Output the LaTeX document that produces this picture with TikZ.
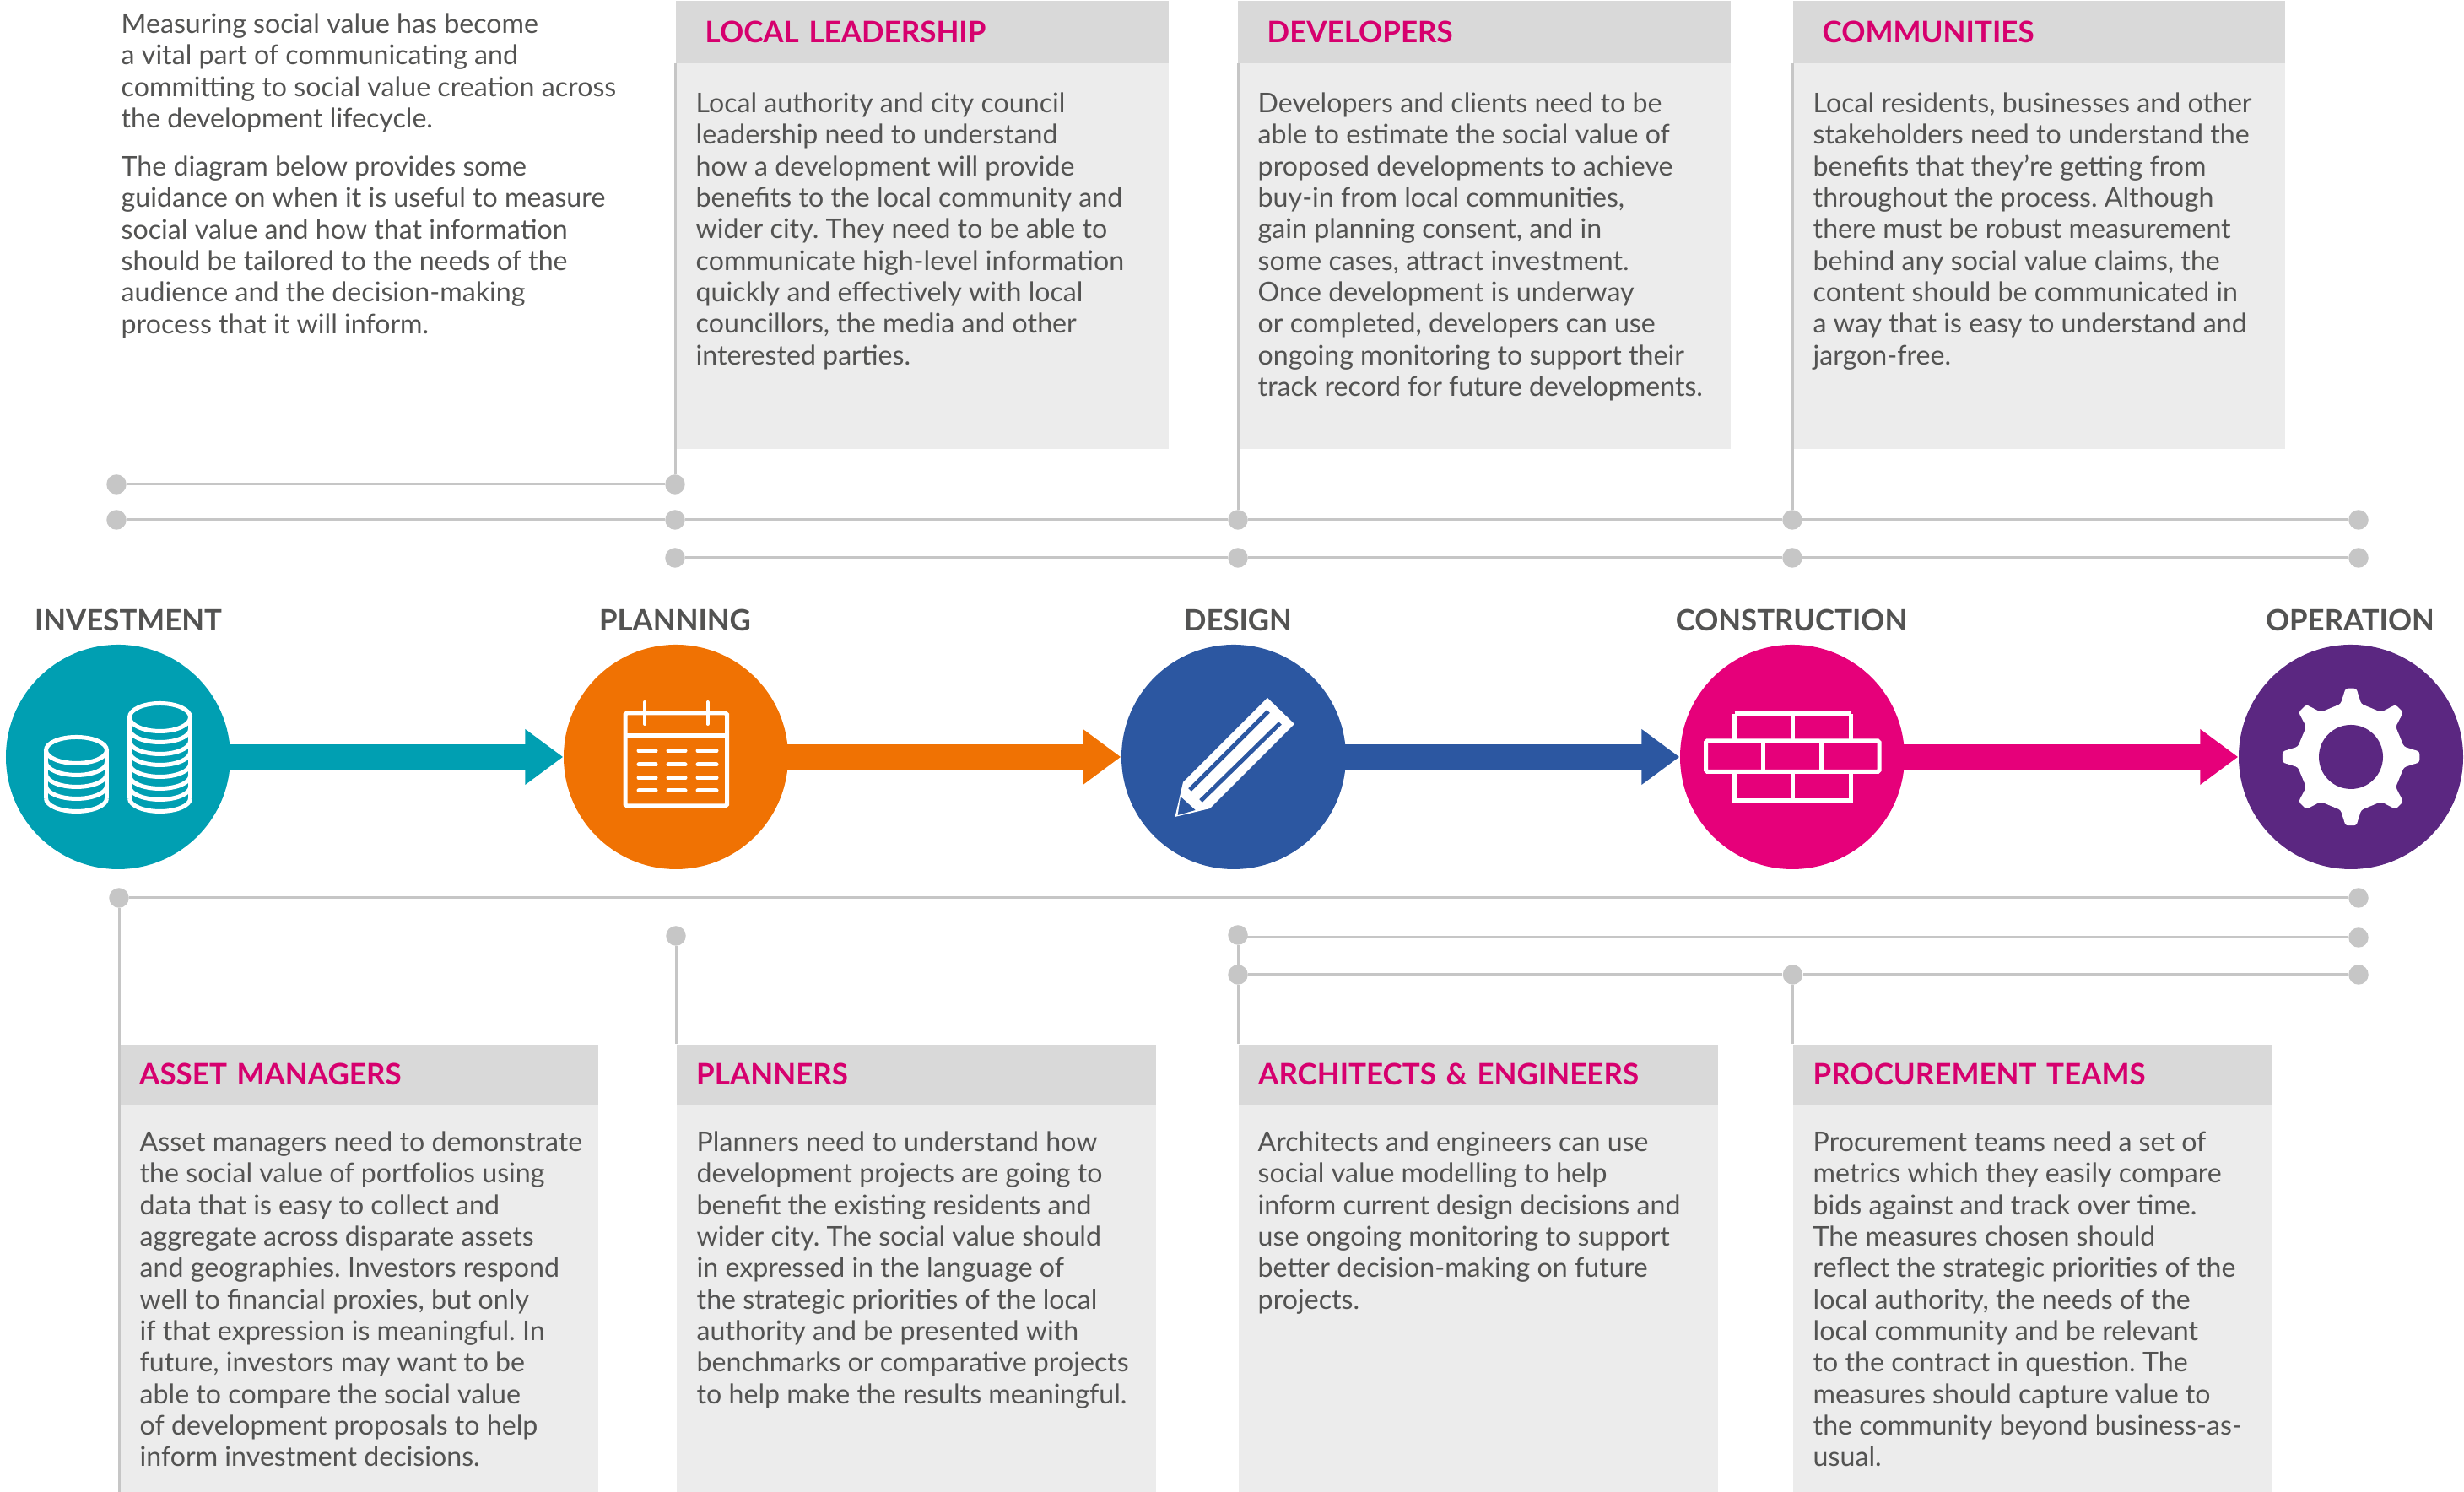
\documentclass[tikz,border=0pt]{standalone}
\usepackage{fontspec}
\setmainfont{Lato}
\usetikzlibrary{arrows.meta, positioning, calc}

\definecolor{tealstage}{HTML}{009FB2}
\definecolor{orangestage}{HTML}{F07203}
\definecolor{bluestage}{HTML}{2C57A1}
\definecolor{pinkstage}{HTML}{E6007A}
\definecolor{purplestage}{HTML}{5B2781}
\definecolor{railgrey}{HTML}{C6C6C6}
\definecolor{headgrey}{HTML}{D9D9D9}
\definecolor{bodygrey}{HTML}{ECECEC}
\definecolor{textgrey}{HTML}{535352}
\definecolor{titlepink}{HTML}{D6006E}

\tikzset{
  stage/.style={circle, minimum size=2.66cm, inner sep=0pt, fill=#1},
  stagelabel/.style={anchor=base, text=textgrey, inner sep=0pt, font=\fontsize{9.9}{12}\selectfont\bfseries},
  flow/.style={line width=0.3cm, draw=#1, shorten <=-1pt, -{Triangle[length=0.45cm,width=0.63cm]}},
  dot/.style={circle, minimum size=0.235cm, inner sep=0pt, fill=railgrey},
  rail/.style={draw=railgrey, line width=0.03cm},
  headbox/.style={anchor=north west, fill=headgrey, inner sep=0pt, text=titlepink, align=left, minimum height=#1,
    font=\fontsize{9.95}{12}\selectfont\bfseries},
  bodybox/.style={anchor=north west, fill=bodygrey, inner sep=0pt},
  blurb/.style={anchor=north west, inner sep=0pt, align=left, text=textgrey, font=\frenchspacing\fontsize{9.15}{10.63}\selectfont},
  iconline/.style={draw=white, line width=0.05cm}
}

\begin{document}
\begin{tikzpicture}
  \useasboundingbox (0,0) rectangle (29.2,17.68);

  % Boxes above the line
  \node[bodybox, minimum width=5.84cm, minimum height=4.57cm] (localbody) at (8,16.94) {};
  \node[bodybox, minimum width=5.84cm, minimum height=4.57cm] (devbody) at (14.66,16.94) {};
  \node[bodybox, minimum width=5.83cm, minimum height=4.57cm] (commbody) at (21.24,16.94) {};

  % Boxes below the line
  \node[bodybox, minimum width=5.67cm, minimum height=4.59cm] (assetbody) at (1.41,4.60) {};
  \node[bodybox, minimum width=5.68cm, minimum height=4.59cm] (planbody) at (8.01,4.60) {};
  \node[bodybox, minimum width=5.68cm, minimum height=4.59cm] (archbody) at (14.67,4.60) {};
  \node[bodybox, minimum width=5.675cm, minimum height=4.59cm] (procbody) at (21.245,4.60) {};

  % Headers
  \node[headbox=0.74cm, text width=5.84cm] (localhead) at (8,17.68) {\hspace*{0.35cm}LOCAL LEADERSHIP};
  \node[headbox=0.74cm, text width=5.84cm] (devhead) at (14.66,17.68) {\hspace*{0.35cm}DEVELOPERS};
  \node[headbox=0.74cm, text width=5.83cm] (commhead) at (21.24,17.68) {\hspace*{0.35cm}COMMUNITIES};
  \node[headbox=0.71cm, text width=5.67cm] (assethead) at (1.41,5.31) {\hspace*{0.235cm}ASSET MANAGERS};
  \node[headbox=0.71cm, text width=5.68cm] (planhead) at (8.01,5.31) {\hspace*{0.235cm}PLANNERS};
  \node[headbox=0.71cm, text width=5.68cm] (archhead) at (14.67,5.31) {\hspace*{0.235cm}ARCHITECTS \& ENGINEERS};
  \node[headbox=0.71cm, text width=5.675cm] (prochead) at (21.245,5.31) {\hspace*{0.235cm}PROCUREMENT TEAMS};

  % Intro text
  \node[blurb] (introa) at (1.43,17.53) {Measuring social value has become\\a vital part of communicating and\\committing to social value creation across\\the development lifecycle.};
  \node[blurb] (introb) at (1.43,15.84) {The diagram below provides some\\guidance on when it is useful to measure\\social value and how that information\\should be tailored to the needs of the\\audience and the decision-making\\process that it will inform.};

  % Texts above the line
  \node[blurb] (localtext) at (8.24,16.59) {Local authority and city council\\leadership need to understand\\how a development will provide\\benefits to the local community and\\wider city. They need to be able to\\communicate high-level information\\quickly and effectively with local\\councillors, the media and other\\interested parties.};
  \node[blurb] (devtext) at (14.9,16.59) {Developers and clients need to be\\able to estimate the social value of\\proposed developments to achieve\\buy-in from local communities,\\gain planning consent, and in\\some cases, attract investment.\\Once development is underway\\or completed, developers can use\\ongoing monitoring to support their\\track record for future developments.};
  \node[blurb] (commtext) at (21.48,16.59) {Local residents, businesses and other\\stakeholders need to understand the\\benefits that they're getting from\\throughout the process. Although\\there must be robust measurement\\behind any social value claims, the\\content should be communicated in\\a way that is easy to understand and\\jargon-free.};

  % Texts below the line
  \node[blurb] (assettext) at (1.65,4.28) {Asset managers need to demonstrate\\the social value of portfolios using\\data that is easy to collect and\\aggregate across disparate assets\\and geographies. Investors respond\\well to financial proxies, but only\\if that expression is meaningful. In\\future, investors may want to be\\able to compare the social value\\of development proposals to help\\inform investment decisions.};
  \node[blurb] (plantext) at (8.25,4.28) {Planners need to understand how\\development projects are going to\\benefit the existing residents and\\wider city. The social value should\\in expressed in the language of\\the strategic priorities of the local\\authority and be presented with\\benchmarks or comparative projects\\to help make the results meaningful.};
  \node[blurb] (archtext) at (14.9,4.28) {Architects and engineers can use\\social value modelling to help\\inform current design decisions and\\use ongoing monitoring to support\\better decision-making on future\\projects.};
  \node[blurb] (proctext) at (21.48,4.28) {Procurement teams need a set of\\metrics which they easily compare\\bids against and track over time.\\The measures chosen should\\reflect the strategic priorities of the\\local authority, the needs of the\\local community and be relevant\\to the contract in question. The\\measures should capture value to\\the community beyond business-as-\\usual.};

  % Dots above
  \node[dot] (ta) at (1.38,11.94) {};
  \node[dot] (tb) at (8,11.94) {};
  \node[dot] (ma) at (1.38,11.52) {};
  \node[dot] (mb) at (8,11.52) {};
  \node[dot] (mc) at (14.67,11.52) {};
  \node[dot] (md) at (21.24,11.52) {};
  \node[dot] (me) at (27.95,11.52) {};
  \node[dot] (lb) at (8,11.07) {};
  \node[dot] (lc) at (14.67,11.07) {};
  \node[dot] (ld) at (21.24,11.07) {};
  \node[dot] (le) at (27.95,11.07) {};

  % Rails above
  \draw[rail] (ta) -- (tb);
  \draw[rail] (ma) -- (mb);
  \draw[rail] (mb) -- (mc);
  \draw[rail] (mc) -- (md);
  \draw[rail] (md) -- (me);
  \draw[rail] (lb) -- (lc);
  \draw[rail] (lc) -- (ld);
  \draw[rail] (ld) -- (le);
  \draw[rail] (tb) -- (localhead.south west);
  \draw[rail] (mc) -- (mc |- devhead.south);
  \draw[rail] (md) -- (commhead.south west);

  % Dots below
  \node[dot] (ua) at (1.41,7.04) {};
  \node[dot] (ue) at (27.95,7.04) {};
  \node[dot] (vb) at (8.01,6.59) {};
  \node[dot] (vc) at (14.67,6.60) {};
  \node[dot] (ve) at (27.95,6.57) {};
  \node[dot] (wc) at (14.67,6.13) {};
  \node[dot] (wd) at (21.245,6.13) {};
  \node[dot] (we) at (27.95,6.13) {};

  % Rails below
  \draw[rail] (ua) -- (ue);
  \draw[rail] (vc |- ve) -- (ve);
  \draw[rail] (wc) -- (wd);
  \draw[rail] (wd) -- (we);
  \draw[rail] (vc) -- (wc);
  \draw[rail] (ua) -- (assetbody.south west);
  \draw[rail] (vb) -- (planhead.north west);
  \draw[rail] (wc) -- (archhead.north west);
  \draw[rail] (wd) -- (prochead.north west);

  % Stages
  \node[stage=tealstage] (investment) at (1.40,8.71) {};
  \node[stage=orangestage] (planning) at (8.01,8.71) {};
  \node[stage=bluestage] (design) at (14.62,8.71) {};
  \node[stage=pinkstage] (construction) at (21.24,8.71) {};
  \node[stage=purplestage] (operation) at (27.86,8.71) {};

  \node[stagelabel] (investlabel) at (1.52,10.20) {INVESTMENT};
  \node[stagelabel] (planlabel) at (8.0,10.20) {PLANNING};
  \node[stagelabel] (designlabel) at (14.67,10.20) {DESIGN};
  \node[stagelabel] (conslabel) at (21.23,10.20) {CONSTRUCTION};
  \node[stagelabel] (oplabel) at (27.85,10.20) {OPERATION};

  % Arrows
  \draw[flow=tealstage] (investment) -- (planning);
  \draw[flow=orangestage] (planning) -- (design);
  \draw[flow=bluestage] (design) -- (construction);
  \draw[flow=pinkstage] (construction) -- (operation);

  % Coins
  \draw[iconline] (0.905,8.79) ellipse (0.36 and 0.155);
  \draw[iconline] (0.545,8.79) -- (0.545,8.22) (1.265,8.79) -- (1.265,8.22);
  \draw[iconline] (0.545,8.65) arc (180:360:0.36 and 0.155);
  \draw[iconline] (0.545,8.51) arc (180:360:0.36 and 0.155);
  \draw[iconline] (0.545,8.37) arc (180:360:0.36 and 0.155);
  \draw[iconline] (0.545,8.22) arc (180:360:0.36 and 0.155);
  \draw[iconline] (1.895,9.18) ellipse (0.36 and 0.165);
  \draw[iconline] (1.535,9.18) -- (1.535,8.22) (2.255,9.18) -- (2.255,8.22);
  \draw[iconline] (1.535,9.04) arc (180:360:0.36 and 0.155);
  \draw[iconline] (1.535,8.90) arc (180:360:0.36 and 0.155);
  \draw[iconline] (1.535,8.77) arc (180:360:0.36 and 0.155);
  \draw[iconline] (1.535,8.63) arc (180:360:0.36 and 0.155);
  \draw[iconline] (1.535,8.49) arc (180:360:0.36 and 0.155);
  \draw[iconline] (1.535,8.36) arc (180:360:0.36 and 0.155);
  \draw[iconline] (1.535,8.22) arc (180:360:0.36 and 0.155);

  % Calendar
  \draw[iconline, rounded corners=0.5pt] (7.41,9.23) rectangle (8.615,8.13);
  \draw[iconline] (7.41,8.96) -- (8.615,8.96);
  \draw[iconline, line width=0.04cm, line cap=round] (7.64,9.36) -- (7.64,9.10) (8.386,9.36) -- (8.386,9.10);
  \draw[iconline, line cap=round] (7.57,8.78) -- (7.77,8.78) (7.92,8.78) -- (8.12,8.78) (8.27,8.78) -- (8.49,8.78);
  \draw[iconline, line cap=round] (7.57,8.62) -- (7.77,8.62) (7.92,8.62) -- (8.12,8.62) (8.27,8.62) -- (8.49,8.62);
  \draw[iconline, line cap=round] (7.57,8.46) -- (7.77,8.46) (7.92,8.46) -- (8.12,8.46) (8.27,8.46) -- (8.49,8.46);
  \draw[iconline, line cap=round] (7.57,8.31) -- (7.77,8.31) (7.92,8.31) -- (8.12,8.31) (8.27,8.31) -- (8.49,8.31);

  % Pencil
  \fill[white] (15.02,9.41) -- (15.34,9.10) -- (14.34,8.10) -- (13.925,8.00) -- (14.02,8.41) -- cycle;
  \draw[bluestage, line width=0.05cm] (15.03,9.25) -- (14.10,8.32);
  \draw[bluestage, line width=0.05cm] (15.17,9.11) -- (14.23,8.19);
  \fill[bluestage] (13.99,8.24) -- (14.167,8.08) -- (13.957,8.02) -- cycle;

  % Bricks
  \draw[iconline, rounded corners=0.5pt] (20.215,8.90) rectangle (22.27,8.535);
  \draw[iconline, rounded corners=0.5pt] (20.555,9.22) -- (20.555,8.90) (21.935,8.90) -- (21.935,9.22) (20.555,9.22) -- (21.935,9.22);
  \draw[iconline] (20.555,8.535) -- (20.555,8.19) -- (21.935,8.19) -- (21.935,8.535);
  \draw[iconline] (21.246,9.22) -- (21.246,8.90) (21.246,8.535) -- (21.246,8.19);
  \draw[iconline] (20.895,8.90) -- (20.895,8.535) (21.584,8.90) -- (21.584,8.535);

  % Gear
  \begin{scope}[shift={(operation.center)}]
    \fill[white, rounded corners=0.8pt]
      (79:0.64) -- (85.5:0.815) -- (94.5:0.815) -- (101:0.64) --
      (124:0.64) -- (130.5:0.815) -- (139.5:0.815) -- (146:0.64) --
      (169:0.64) -- (175.5:0.815) -- (184.5:0.815) -- (191:0.64) --
      (214:0.64) -- (220.5:0.815) -- (229.5:0.815) -- (236:0.64) --
      (259:0.64) -- (265.5:0.815) -- (274.5:0.815) -- (281:0.64) --
      (304:0.64) -- (310.5:0.815) -- (319.5:0.815) -- (326:0.64) --
      (349:0.64) -- (355.5:0.815) -- (4.5:0.815) -- (11:0.64) --
      (34:0.64) -- (40.5:0.815) -- (49.5:0.815) -- (56:0.64) -- cycle;
    \fill[purplestage] (0,0) circle (0.38);
  \end{scope}
\end{tikzpicture}
\end{document}
